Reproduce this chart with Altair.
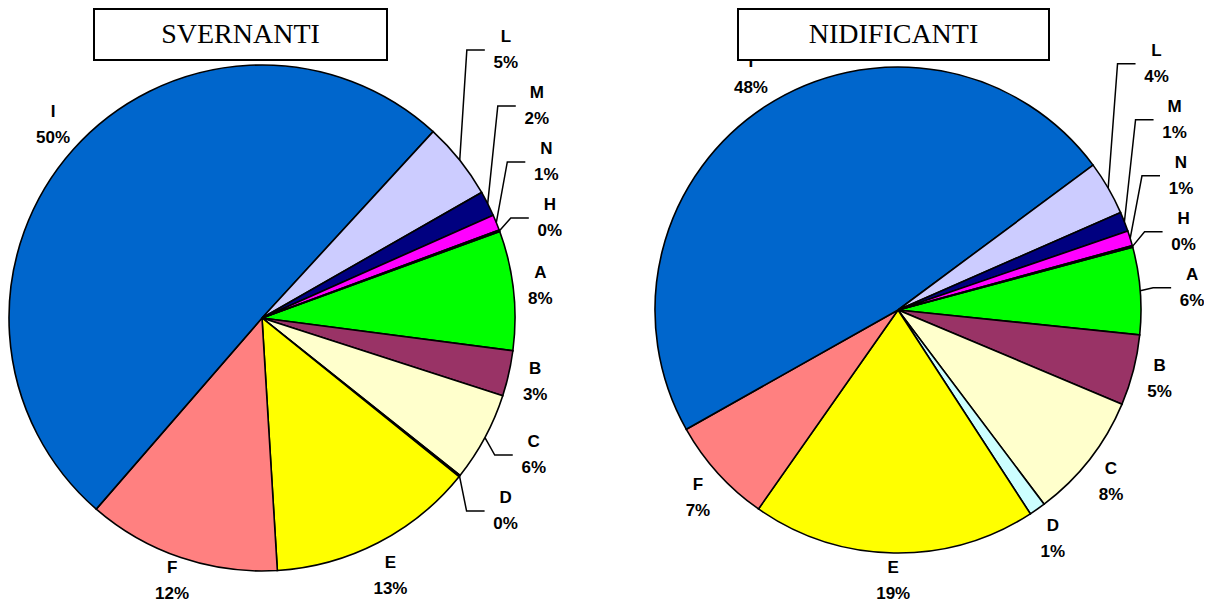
import math
import altair as alt
import pandas as pd

# ---------------- data ----------------
categories = ["A", "B", "C", "D", "E", "F", "I", "L", "M", "N", "H"]
colors = ["#00FF00", "#993366", "#FFFFCC", "#CCFFFF", "#FFFF00", "#FF8080",
          "#0066CC", "#CCCCFF", "#000080", "#FF00FF", "#FFCC99"]
svernanti = [7.6, 2.9, 5.7, 0.1, 13.2, 12.3, 50.3, 4.9, 1.6, 1.0, 0.1]
nidificanti = [5.8, 4.7, 8.4, 1.1, 18.9, 7.1, 48.0, 3.6, 1.3, 1.0, 0.1]
titles = ["SVERNANTI", "NIDIFICANTI"]

# ---------------- layout ----------------
W, H = 1196, 596
PIES = [
    dict(name=titles[0], vals=svernanti, cx=254, cy=310, r=253, start=70),
    dict(name=titles[1], vals=nidificanti, cx=890, cy=302, r=243, start=75),
]
LABEL_FONT = "Liberation Sans"
LINE_GAP = 13


def layout_labels(vals, cx, cy, r, start, gap=12, bw=30, bh=50, sep=56, shift=25):
    total = sum(vals)
    ang = start
    items = []
    for i, v in enumerate(vals):
        a0 = ang
        a1 = ang + 360.0 * v / total
        ang = a1
        mid = math.radians((a0 + a1) / 2)
        dx, dy = math.sin(mid), -math.cos(mid)
        px, py = cx + r * dx, cy + r * dy
        lx = px + dx * gap + dx * bw / 2
        ly = py + dy * gap + dy * bh / 2
        items.append(dict(i=i, px=px, py=py, lx=lx, ly=ly, nat=ly,
                          side=1 if dx >= 0 else -1, leader=False,
                          pct=f"{round(100.0 * v / total)}%"))
    for side in (1, -1):
        grp = sorted([it for it in items if it["side"] == side], key=lambda t: t["nat"])
        for a, b in zip(grp, grp[1:]):
            if b["nat"] - a["nat"] < sep:
                a["leader"] = b["leader"] = True
        upper = [it for it in grp if it["nat"] < cy]
        lower = [it for it in grp if it["nat"] >= cy]
        for k in range(len(upper) - 2, -1, -1):
            upper[k]["ly"] = min(upper[k]["ly"], upper[k + 1]["ly"] - sep)
        for k in range(1, len(lower)):
            lower[k]["ly"] = max(lower[k]["ly"], lower[k - 1]["ly"] + sep)
    for it in items:
        if it["leader"]:
            it["lx"] += it["side"] * shift
        # keep the two-line label inside the drawing area
        it["ly"] = min(it["ly"], H - LINE_GAP - 10)
    return items


layers = []
label_rows = []
leader_rows = []
for p in PIES:
    df = pd.DataFrame({"cat": categories, "value": p["vals"], "idx": range(len(categories))})
    a0 = math.radians(p["start"])
    arc = alt.Chart(df).mark_arc(outerRadius=p["r"], stroke="black", strokeWidth=1.6).encode(
        theta=alt.Theta("value:Q", stack=True, scale=alt.Scale(range=[a0, a0 + 2 * math.pi])),
        order=alt.Order("idx:Q"),
        color=alt.Color("cat:N", scale=alt.Scale(domain=categories, range=colors), legend=None),
        x=alt.value(p["cx"]),
        y=alt.value(p["cy"]),
    )
    layers.append(arc)
    for it in layout_labels(p["vals"], p["cx"], p["cy"], p["r"], p["start"]):
        cat = categories[it["i"]]
        key = p["name"] + "_" + cat
        label_rows.append(dict(key=key, name=cat, pct=it["pct"],
                               x=it["lx"], y1=it["ly"] - LINE_GAP, y2=it["ly"] + LINE_GAP))
        if it["leader"]:
            s = it["side"]
            end_x = it["lx"] - s * 21
            elb_x = end_x - s * 18
            pts = [(it["px"], it["py"]), (elb_x, it["ly"]), (end_x, it["ly"])]
            for j, (xx, yy) in enumerate(pts):
                leader_rows.append(dict(key=key, seq=j, x=xx, y=yy))

labels_df = pd.DataFrame(label_rows)
leaders_df = pd.DataFrame(leader_rows)

leaders = alt.Chart(leaders_df).mark_line(color="black", strokeWidth=1.5).encode(
    x=alt.X("x:Q", scale=None, axis=None),
    y=alt.Y("y:Q", scale=None, axis=None),
    detail="key:N",
    order="seq:Q",
)
text_style = dict(font=LABEL_FONT, fontSize=17, fontWeight="bold", align="center",
                  baseline="middle", color="black")
name_text = alt.Chart(labels_df).mark_text(**text_style).encode(
    x=alt.X("x:Q", scale=None, axis=None),
    y=alt.Y("y1:Q", scale=None, axis=None),
    text="name:N",
)
pct_text = alt.Chart(labels_df).mark_text(**text_style).encode(
    x=alt.X("x:Q", scale=None, axis=None),
    y=alt.Y("y2:Q", scale=None, axis=None),
    text="pct:N",
)

anchor = pd.DataFrame({"t": [0]})
title_layers = []
for name, (x0, x1) in zip(titles, [(86, 379), (730, 1041)]):
    box = alt.Chart(anchor).mark_rect(fill="white", stroke="black", strokeWidth=2).encode(
        x=alt.value(x0), x2=alt.value(x1), y=alt.value(1), y2=alt.value(52)
    )
    txt = alt.Chart(anchor).mark_text(
        text=name, font="Liberation Serif", fontSize=28, align="center", baseline="middle", color="black"
    ).encode(x=alt.value((x0 + x1) / 2), y=alt.value(27))
    title_layers += [box, txt]

chart = alt.layer(*layers, leaders, name_text, pct_text, *title_layers).resolve_scale(
    theta="independent"
).properties(
    width=W, height=H, padding=0, autosize=alt.AutoSizeParams(type="none")
).configure_view(stroke=None)

chart.save("out.html", embed_options={"renderer": "svg", "actions": False})
